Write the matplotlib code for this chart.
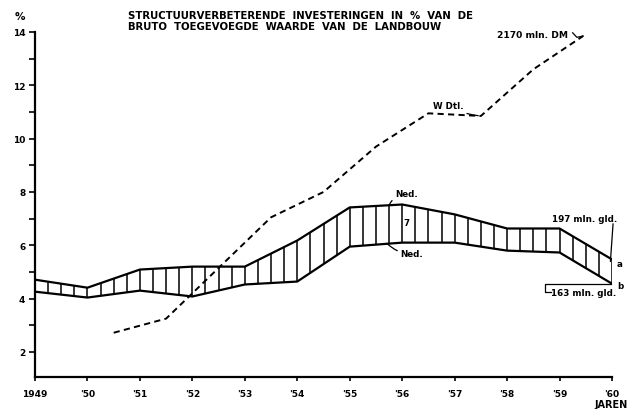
import numpy as np
import matplotlib
matplotlib.use("Agg")
import matplotlib.pyplot as plt

# ---- data ----
years = [1949, 1950, 1951, 1952, 1953, 1954, 1955, 1956, 1957, 1958, 1959, 1960]
ned_upper = [4.71, 4.41, 5.09, 5.20, 5.20, 6.18, 7.42, 7.53, 7.16, 6.63, 6.63, 5.47]
ned_lower = [4.26, 4.04, 4.30, 4.08, 4.53, 4.64, 5.95, 6.10, 6.10, 5.80, 5.73, 4.56]
wdtl_years = [1950.5, 1951.5, 1953.5, 1954.5, 1955.5, 1956.5, 1957.5, 1958.5, 1959.45]
wdtl_values = [2.72, 3.25, 7.05, 8.0, 9.7, 10.95, 10.85, 12.6, 13.85]
xtick_labels = ["1949", "'50", "'51", "'52", "'53", "'54", "'55", "'56", "'57", "'58", "'59", "'60"]
ytick_major = [2, 4, 6, 8, 10, 12, 14]
ytick_minor = [3, 5, 7, 9, 11, 13]
title_lines = ["STRUCTUURVERBETERENDE  INVESTERINGEN  IN  %  VAN  DE",
               "BRUTO  TOEGEVOEGDE  WAARDE  VAN  DE  LANDBOUW"]

plt.rcParams['font.family'] = ['DejaVu Sans']
plt.rcParams['font.weight'] = 'bold'

fig = plt.figure(figsize=(6.34, 4.10), dpi=100)
ax = fig.add_axes([35/634, 32/410, (612-35)/634, (378-33)/410])

ax.set_xlim(1949, 1960)
ax.set_ylim(1.06, 14)

# Ned band
ax.plot(years, ned_upper, color='black', lw=1.6, solid_joinstyle='miter')
ax.plot(years, ned_lower, color='black', lw=1.6, solid_joinstyle='miter')
xs = np.arange(1949.25, 1960.01, 0.25)
ax.vlines(xs, np.interp(xs, years, ned_lower), np.interp(xs, years, ned_upper),
          color='black', lw=1.1)

# W Dtl dashed line
ax.plot(wdtl_years, wdtl_values, color='black', lw=1.4, linestyle=(0, (3.2, 2.2)))

# spines / ticks
for s in ['top', 'right']:
    ax.spines[s].set_visible(False)
ax.spines['left'].set_linewidth(1.6)
ax.spines['bottom'].set_linewidth(1.6)
ax.set_xticks(years)
ax.set_xticklabels(xtick_labels)
ax.set_yticks(ytick_major)
ax.set_yticks(ytick_minor, minor=True)
ax.tick_params(axis='y', which='major', length=4, width=1.2, labelsize=6.5, pad=3)
ax.tick_params(axis='y', which='minor', length=4, width=1.2)
ax.tick_params(axis='x', which='major', length=3, width=1.2, labelsize=6.5, pad=6)
for lab in ax.get_xticklabels() + ax.get_yticklabels():
    lab.set_fontweight('bold')

# title
fig.text(128/634, 1 - 16/410, title_lines[0], fontsize=7.3, fontweight='bold', va='center', ha='left')
fig.text(128/634, 1 - 27.5/410, title_lines[1], fontsize=7.3, fontweight='bold', va='center', ha='left')
fig.text(15/634, 1 - 17/410, "%", fontsize=7.5, fontweight='bold', va='center', ha='left')
fig.text(628/634, 5/410, "JAREN", fontsize=7.0, fontweight='bold', va='center', ha='right')

fs = 6.3
# annotations
ax.annotate("Ned.", xy=(1955.75, 7.50), xytext=(1955.86, 7.93), fontsize=fs, fontweight='bold',
            va='center', ha='left',
            arrowprops=dict(arrowstyle='-', lw=0.9, color='black', shrinkA=0, shrinkB=0,
                            connectionstyle='arc3,rad=0.3'))
ax.annotate("Ned.", xy=(1955.71, 6.07), xytext=(1955.96, 5.68), fontsize=fs, fontweight='bold',
            va='center', ha='left',
            arrowprops=dict(arrowstyle='-', lw=0.9, color='black', shrinkA=0, shrinkB=0,
                            connectionstyle='arc3,rad=-0.2'))
ax.text(1956.09, 6.84, "7", fontsize=fs, fontweight='bold', va='center', ha='center')
ax.text(1958.86, 6.99, "197 mln. gld.", fontsize=fs, fontweight='bold', va='center', ha='left')
ax.plot([1960.02, 1959.97], [6.80, 5.40], color='black', lw=0.9, clip_on=False)
ax.text(1960.08, 5.30, "a", fontsize=fs, fontweight='bold', va='center', ha='left')
ax.text(1960.10, 4.50, "b", fontsize=fs, fontweight='bold', va='center', ha='left')
ax.plot([1959.98, 1958.72, 1958.72, 1958.84], [4.55, 4.55, 4.26, 4.26], color='black', lw=0.9,
        clip_on=False)
ax.text(1958.84, 4.22, "163 mln. gld.", fontsize=fs, fontweight='bold', va='center', ha='left')
ax.annotate("W Dtl.", xy=(1957.45, 10.86), xytext=(1956.59, 11.23), fontsize=fs, fontweight='bold',
            va='center', ha='left',
            arrowprops=dict(arrowstyle='-', lw=0.9, color='black', shrinkA=1, shrinkB=0,
                            connectionstyle='arc3,rad=0.1'))
ax.text(1957.81, 13.92, "2170 mln. DM", fontsize=6.6, fontweight='bold', va='center', ha='left',
        clip_on=False)
ax.plot([1959.25, 1959.33, 1959.45], [13.97, 13.80, 13.85], color='black', lw=0.9, clip_on=False)

fig.savefig("out.png", dpi=100)
